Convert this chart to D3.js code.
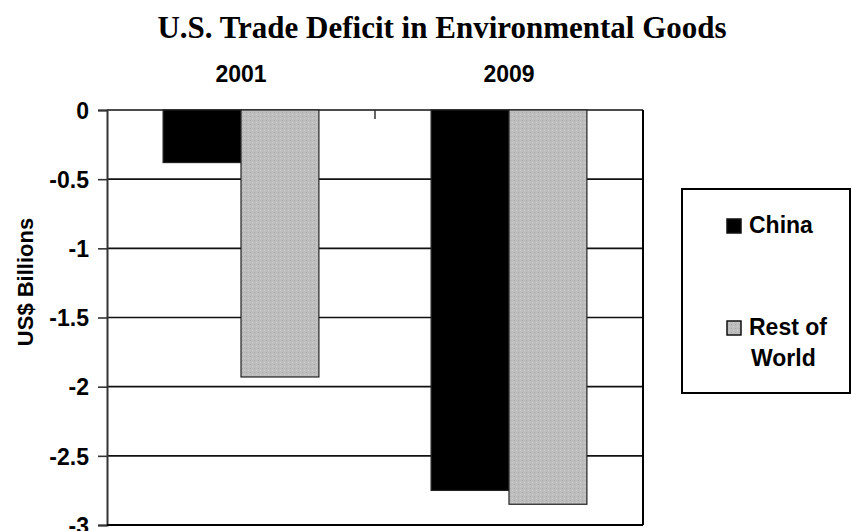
<!DOCTYPE html>
<html lang="en">
<head>
<meta charset="utf-8">
<title>U.S. Trade Deficit in Environmental Goods</title>
<script src="https://cdn.jsdelivr.net/npm/d3@7"></script>
<style>
  body { margin: 0; background: #fff; }
  text { font-family: Arial, "Liberation Sans", sans-serif; font-weight: bold; fill: #000; }
  #title { font-family: "Times New Roman", "Liberation Serif", serif; font-size: 31px; }
</style>
</head>
<body>
<svg id="chart"></svg>
<script>
const years = ['2001', '2009'],
  series = ['China', 'Rest of World'],
  china = [-0.38, -2.75],
  restOfWorld = [-1.93, -2.85],
  yTicks = [0, -0.5, -1, -1.5, -2, -2.5, -3];

const width = 852, height = 531;
const plot = {left: 107, right: 643, top: 110, bottom: 525};

const svg = d3.select('#chart')
  .attr('width', width)
  .attr('height', height);

// grain for the grey bars, like the scanned original
const pattern = svg.append('defs').append('pattern')
  .attr('id', 'grain')
  .attr('width', 4).attr('height', 4)
  .attr('patternUnits', 'userSpaceOnUse');
pattern.append('rect').attr('width', 4).attr('height', 4).attr('fill', '#bdbdbd');
pattern.append('rect').attr('x', 1).attr('y', 2).attr('width', 1).attr('height', 1).attr('fill', '#cfcfcf');
pattern.append('rect').attr('x', 3).attr('y', 0).attr('width', 1).attr('height', 1).attr('fill', '#aaaaaa');

const x = d3.scaleBand()
  .domain(years)
  .range([plot.left, plot.right]);

const xSub = d3.scaleBand()
  .domain(series)
  .range([0, x.bandwidth()])
  .paddingInner(0)
  .paddingOuter(0.72);

const y = d3.scaleLinear()
  .domain([0, -3])
  .range([plot.top, plot.bottom]);

svg.append('text')
  .attr('id', 'title')
  .attr('x', 442)
  .attr('y', 38)
  .attr('text-anchor', 'middle')
  .text('U.S. Trade Deficit in Environmental Goods');

// gridlines
svg.append('g')
  .selectAll('line')
  .data(yTicks)
  .enter().append('line')
  .attr('x1', plot.left)
  .attr('x2', plot.right)
  .attr('y1', d => y(d))
  .attr('y2', d => y(d))
  .attr('stroke', '#111')
  .attr('stroke-width', 1.6);

// bars
const rows = years.map((yr, i) => ({year: yr, values: [
  {key: 'China', value: china[i]},
  {key: 'Rest of World', value: restOfWorld[i]}
]}));

svg.append('g')
  .selectAll('g')
  .data(rows)
  .enter().append('g')
  .attr('transform', d => `translate(${x(d.year)},0)`)
  .selectAll('rect')
  .data(d => d.values)
  .enter().append('rect')
  .attr('x', d => xSub(d.key))
  .attr('width', xSub.bandwidth())
  .attr('y', y(0))
  .attr('height', d => y(d.value) - y(0))
  .attr('fill', d => d.key === 'China' ? '#000' : 'url(#grain)')
  .attr('stroke', '#222')
  .attr('stroke-width', 1.2);

// y axis
const yAxis = svg.append('g')
  .attr('transform', `translate(${plot.left},0)`)
  .call(d3.axisLeft(y).tickValues(yTicks).tickSize(9).tickPadding(9).tickFormat(d => String(d)));
yAxis.select('.domain').attr('stroke', '#333').attr('stroke-width', 2);
yAxis.selectAll('.tick line').attr('stroke', '#333').attr('stroke-width', 1.6);
yAxis.selectAll('.tick text').style('font-size', '23px').attr('dy', '0.36em');

// top category axis, ticks pointing down
const xAxis = svg.append('g')
  .attr('transform', `translate(0,${plot.top})`)
  .call(d3.axisBottom(x).tickSize(0).tickFormat(''));
xAxis.select('.domain').remove();
xAxis.selectAll('line.sep')
  .data([x('2009')])
  .enter().append('line')
  .attr('class', 'sep')
  .attr('x1', d => d).attr('x2', d => d)
  .attr('y1', 0).attr('y2', 9)
  .attr('stroke', '#333').attr('stroke-width', 1.5);

// year labels above plot
svg.append('g')
  .selectAll('text')
  .data(years)
  .enter().append('text')
  .attr('x', d => x(d) + x.bandwidth() / 2)
  .attr('y', 82)
  .attr('text-anchor', 'middle')
  .style('font-size', '23px')
  .text(d => d);

// right & bottom frame
svg.append('line')
  .attr('x1', plot.right).attr('x2', plot.right)
  .attr('y1', plot.top).attr('y2', plot.bottom)
  .attr('stroke', '#000').attr('stroke-width', 2);
svg.append('line')
  .attr('x1', plot.left).attr('x2', plot.right)
  .attr('y1', plot.bottom).attr('y2', plot.bottom)
  .attr('stroke', '#000').attr('stroke-width', 2);

// axis title
svg.append('text')
  .attr('transform', 'translate(33,282) rotate(-90)')
  .attr('text-anchor', 'middle')
  .style('font-size', '22px')
  .text('US$ Billions');

// legend
const legend = svg.append('g');
legend.append('rect')
  .attr('x', 682).attr('y', 189)
  .attr('width', 168).attr('height', 204)
  .attr('fill', '#fff')
  .attr('stroke', '#000').attr('stroke-width', 2);

const legendItems = [
  {key: 'China', lines: ['China'], y: 233},
  {key: 'Rest of World', lines: ['Rest of', 'World'], y: 335}
];
legendItems.forEach(item => {
  legend.append('rect')
    .attr('x', 727).attr('y', item.y - 14)
    .attr('width', 14).attr('height', 14)
    .attr('fill', item.key === 'China' ? '#000' : 'url(#grain)')
    .attr('stroke', '#111').attr('stroke-width', 1.5);
  item.lines.forEach((t, i) => {
    legend.append('text')
      .attr('x', i === 0 ? 749 : 751)
      .attr('y', item.y + i * 31)
      .style('font-size', '23px')
      .text(t);
  });
});
</script>
</body>
</html>
